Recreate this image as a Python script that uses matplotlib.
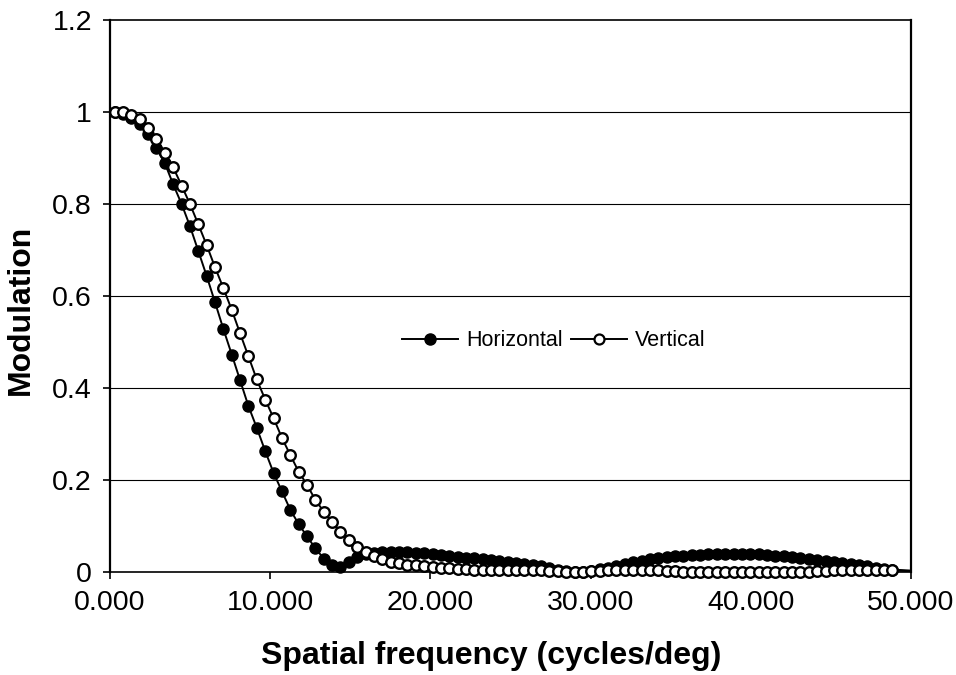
import numpy as np
import matplotlib
matplotlib.use("Agg")
import matplotlib.pyplot as plt
from matplotlib.lines import Line2D

plt.rcParams['font.family'] = ['Liberation Sans', 'DejaVu Sans']

# spatial frequency (cycles/deg)
freq = [0.29, 0.81, 1.33, 1.86, 2.38, 2.90, 3.42, 3.94, 4.47, 4.99,
        5.51, 6.03, 6.55, 7.08, 7.60, 8.12, 8.64, 9.16, 9.69, 10.21,
        10.73, 11.25, 11.77, 12.30, 12.82, 13.34, 13.86, 14.38, 14.91, 15.43,
        15.95, 16.47, 16.99, 17.52, 18.04, 18.56, 19.08, 19.60, 20.13, 20.65,
        21.17, 21.69, 22.21, 22.74, 23.26, 23.78, 24.30, 24.82, 25.35, 25.87,
        26.39, 26.91, 27.43, 27.96, 28.48, 29.00, 29.52, 30.04, 30.57, 31.09,
        31.61, 32.13, 32.65, 33.18, 33.70, 34.22, 34.74, 35.26, 35.79, 36.31,
        36.83, 37.35, 37.87, 38.40, 38.92, 39.44, 39.96, 40.48, 41.01, 41.53,
        42.05, 42.57, 43.09, 43.62, 44.14, 44.66, 45.18, 45.70, 46.23, 46.75,
        47.27, 47.79, 48.31, 48.84, 50.40]

horizontal = [1.000, 0.995, 0.988, 0.975, 0.952, 0.921, 0.889, 0.843, 0.800, 0.752,
              0.698, 0.644, 0.587, 0.528, 0.473, 0.417, 0.361, 0.314, 0.263, 0.216,
              0.176, 0.136, 0.105, 0.078, 0.052, 0.030, 0.016, 0.012, 0.023, 0.034,
              0.039, 0.042, 0.044, 0.045, 0.045, 0.044, 0.043, 0.042, 0.040, 0.038,
              0.036, 0.034, 0.032, 0.031, 0.029, 0.027, 0.025, 0.023, 0.021, 0.019,
              0.016, 0.013, 0.010, 0.006, 0.003, 0.001, 0.001, 0.003, 0.007, 0.010,
              0.014, 0.018, 0.022, 0.025, 0.028, 0.031, 0.033, 0.035, 0.036, 0.037,
              0.038, 0.039, 0.039, 0.040, 0.040, 0.040, 0.039, 0.039, 0.038, 0.036,
              0.035, 0.033, 0.031, 0.029, 0.027, 0.025, 0.023, 0.021, 0.019, 0.016,
              0.013, 0.010, 0.008, 0.006, 0.003]

vertical = [1.000, 1.000, 0.993, 0.985, 0.965, 0.941, 0.912, 0.880, 0.840, 0.800,
            0.756, 0.711, 0.663, 0.617, 0.570, 0.519, 0.469, 0.419, 0.375, 0.335,
            0.292, 0.255, 0.219, 0.190, 0.157, 0.132, 0.110, 0.088, 0.070, 0.056,
            0.045, 0.035, 0.028, 0.023, 0.020, 0.017, 0.015, 0.013, 0.011, 0.010,
            0.009, 0.008, 0.007, 0.006, 0.006, 0.005, 0.005, 0.005, 0.005, 0.004,
            0.004, 0.004, 0.003, 0.002, 0.001, 0.000, 0.001, 0.002, 0.003, 0.004,
            0.005, 0.005, 0.005, 0.005, 0.005, 0.004, 0.003, 0.002, 0.001, 0.000,
            0.000, 0.000, 0.000, 0.000, 0.000, 0.000, 0.000, 0.000, 0.000, 0.000,
            0.000, 0.000, 0.000, 0.001, 0.002, 0.003, 0.004, 0.005, 0.005, 0.005,
            0.005, 0.004, 0.004, 0.004, 0.002]

x_ticks = [0, 10, 20, 30, 40, 50]
x_tick_labels = ["0.000", "10.000", "20.000", "30.000", "40.000", "50.000"]
y_ticks = [0, 0.2, 0.4, 0.6, 0.8, 1.0, 1.2]
y_tick_labels = ["0", "0.2", "0.4", "0.6", "0.8", "1", "1.2"]

f = np.array(freq)
h = np.array(horizontal)
v = np.array(vertical)
inside = f <= 50

fig = plt.figure(figsize=(9.56, 6.75), dpi=100)
ax = fig.add_axes([0.1151, 0.1521, 0.8379, 0.8183])

# connecting lines are clipped at the plot edge, markers are not
ax.plot(f, h, color='black', lw=1.4, zorder=3)
ax.plot(f[inside], h[inside], ls='none', marker='o', ms=8.0,
        mfc='black', mec='black', mew=1.0, zorder=4, clip_on=False)
ax.plot(f, v, color='black', lw=1.4, zorder=5)
ax.plot(f[inside], v[inside], ls='none', marker='o', ms=7.6,
        mfc='white', mec='black', mew=1.7, zorder=6, clip_on=False)

ax.set_xlim(0, 50)
ax.set_ylim(0, 1.2)
ax.set_xticks(x_ticks)
ax.set_xticklabels(x_tick_labels)
ax.set_yticks(y_ticks)
ax.set_yticklabels(y_tick_labels)

for yv in y_ticks[1:-1]:
    ax.axhline(yv, color='black', lw=0.8, zorder=1)

for side in ['left', 'right', 'top', 'bottom']:
    ax.spines[side].set_color('black')
ax.spines['left'].set_linewidth(1.6)
ax.spines['bottom'].set_linewidth(1.2)
ax.spines['top'].set_linewidth(1.2)
ax.spines['right'].set_linewidth(1.6)

ax.tick_params(axis='both', direction='out', color='black', labelsize=20.5,
               length=5, width=1.2)
ax.tick_params(axis='x', pad=8)
ax.tick_params(axis='y', pad=8)

ax.set_xlabel("Spatial frequency (cycles/deg)", fontsize=23, fontweight='bold')
ax.set_ylabel("Modulation", fontsize=23, fontweight='bold')
ax.xaxis.set_label_coords(0.476, -0.125)
ax.yaxis.set_label_coords(-0.092, 0.475)

handles = [
    Line2D([], [], color='black', lw=1.4, marker='o', ms=8.0,
           mfc='black', mec='black'),
    Line2D([], [], color='black', lw=1.4, marker='o', ms=7.2,
           mfc='white', mec='black', mew=1.6),
]
ax.legend(handles, ["Horizontal", "Vertical"], ncol=2, frameon=False,
          fontsize=15.5, handlelength=2.6, handletextpad=0.37, columnspacing=0.35,
          loc='center', bbox_to_anchor=(0.554, 0.419))

fig.savefig("out.png", dpi=100)
